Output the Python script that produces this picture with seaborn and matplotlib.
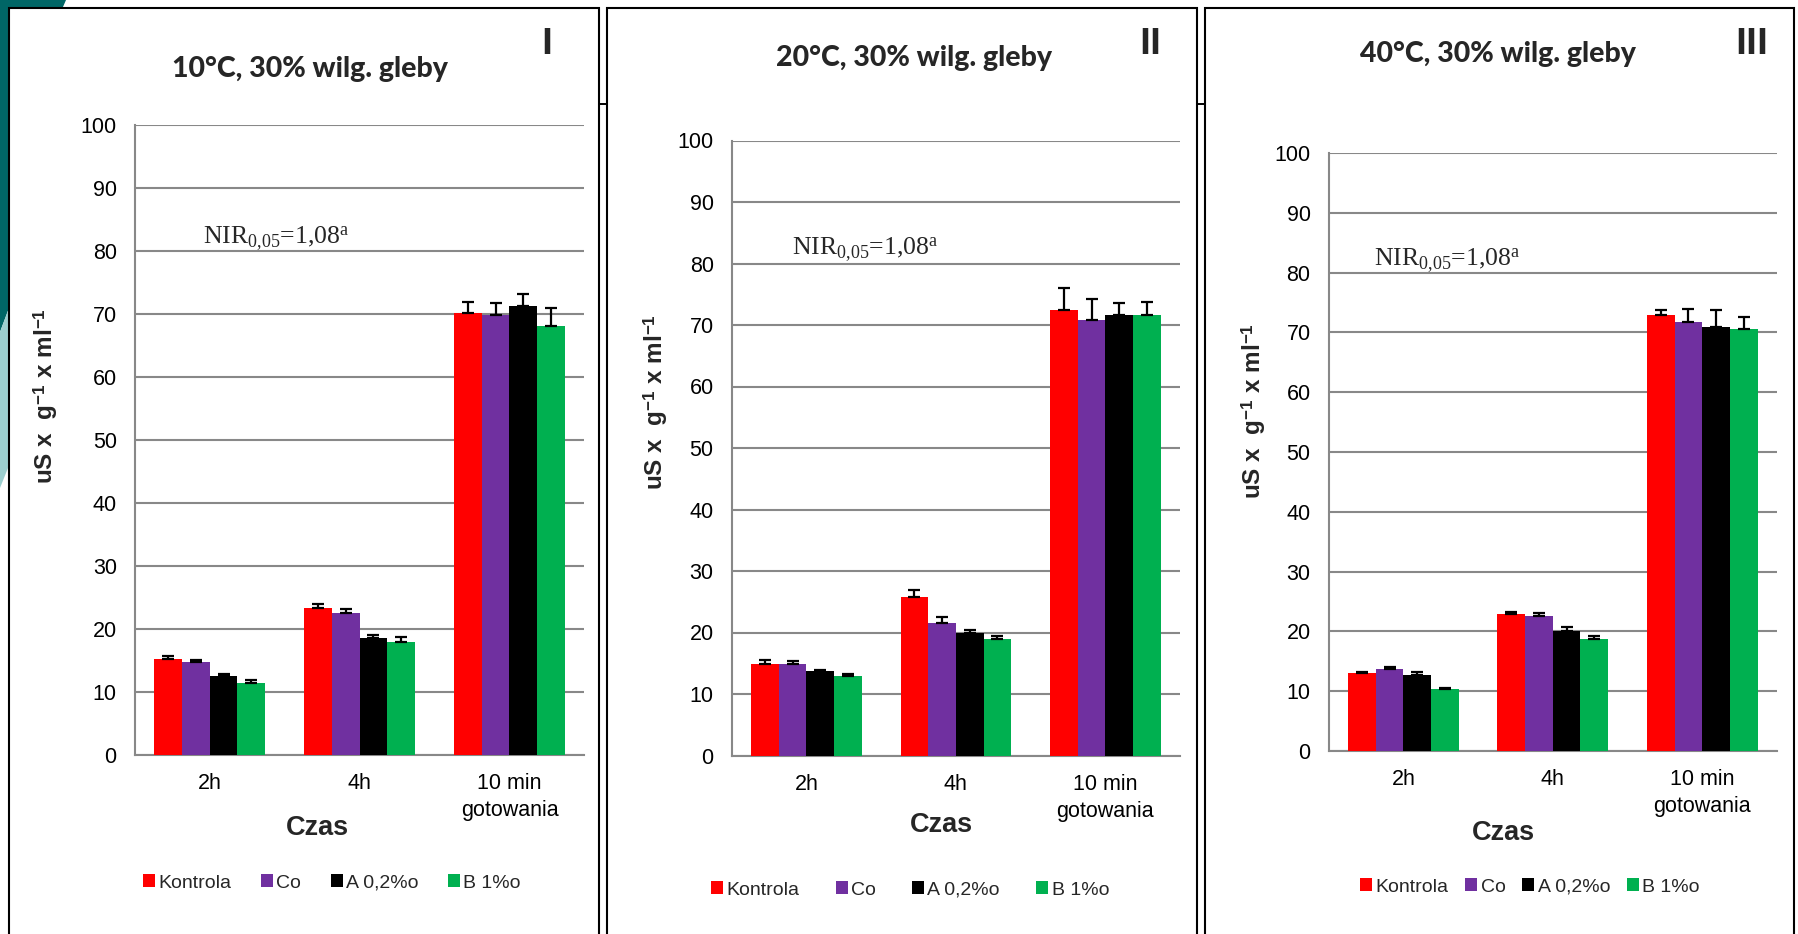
import numpy as np
import pandas as pd
import matplotlib
matplotlib.use("Agg")
import matplotlib.pyplot as plt
from matplotlib.patches import Rectangle, Polygon
from matplotlib.lines import Line2D
import seaborn as sns

# ---- data -------------------------------------------------------------
categories = ["2h", "4h", "10 min\ngotowania"]
series = ["Kontrola", "Co", "A 0,2%o", "B 1%o"]
colors = ["#FF0000", "#7030A0", "#000000", "#00B050"]

panel_titles = ["10°C, 30% wilg. gleby", "20°C, 30% wilg. gleby", "40°C, 30% wilg. gleby"]
panel_numerals = ["I", "II", "III"]
nir_label = r"NIR$_{\mathrm{0{,}05}}$=1,08$^{\mathrm{a}}$"
y_label = r"uS x  g$^{\mathbf{-1}}$ x ml$^{\mathbf{-1}}$"
x_label = "Czas"

# 10 °C
kontrola_10 = [15.2, 23.4, 70.2]
co_10 = [14.7, 22.5, 69.9]
a_10 = [12.5, 18.6, 71.3]
b_10 = [11.5, 18.0, 68.1]
kontrola_10_err = [0.5, 0.6, 1.7]
co_10_err = [0.4, 0.6, 1.9]
a_10_err = [0.4, 0.4, 1.8]
b_10_err = [0.4, 0.7, 2.8]

# 20 °C
kontrola_20 = [14.9, 25.7, 72.5]
co_20 = [14.8, 21.5, 70.8]
a_20 = [13.7, 19.9, 71.7]
b_20 = [13.0, 19.0, 71.6]
kontrola_20_err = [0.6, 1.2, 3.5]
co_20_err = [0.6, 1.0, 3.4]
a_20_err = [0.2, 0.5, 1.8]
b_20_err = [0.3, 0.4, 2.1]

# 40 °C
kontrola_40 = [13.0, 22.9, 72.9]
co_40 = [13.7, 22.5, 71.75]
a_40 = [12.75, 20.1, 70.95]
b_40 = [10.4, 18.65, 70.6]
kontrola_40_err = [0.2, 0.3, 0.9]
co_40_err = [0.3, 0.6, 2.15]
a_40_err = [0.45, 0.6, 2.85]
b_40_err = [0.2, 0.55, 1.9]

panels_values = [
    [kontrola_10, co_10, a_10, b_10],
    [kontrola_20, co_20, a_20, b_20],
    [kontrola_40, co_40, a_40, b_40],
]
panels_errors = [
    [kontrola_10_err, co_10_err, a_10_err, b_10_err],
    [kontrola_20_err, co_20_err, a_20_err, b_20_err],
    [kontrola_40_err, co_40_err, a_40_err, b_40_err],
]

# ---- style ------------------------------------------------------------
sns.set_theme(style="white")
plt.rcParams["font.family"] = ["Liberation Sans", "DejaVu Sans"]
plt.rcParams["mathtext.fontset"] = "custom"
plt.rcParams["mathtext.rm"] = "Liberation Serif"
plt.rcParams["mathtext.it"] = "Liberation Serif:italic"
plt.rcParams["mathtext.bf"] = "Liberation Sans:bold"
plt.rcParams["mathtext.sf"] = "Liberation Sans"

W, H = 1799, 934
fig = plt.figure(figsize=(W / 100, H / 100), dpi=100)
fig.patch.set_facecolor("white")


def fx(x):
    return x / W


def fy(y):
    return 1 - y / H


# slide decoration on the left edge
dark = Polygon([(fx(0), fy(0)), (fx(66), fy(0)), (fx(40), fy(60)), (fx(12), fy(300)),
                (fx(0), fy(332))], closed=True, transform=fig.transFigure,
               facecolor="#006666", edgecolor="none", zorder=-3)
light = Polygon([(fx(0), fy(332)), (fx(12), fy(300)), (fx(12), fy(458)),
                 (fx(0), fy(488))], closed=True, transform=fig.transFigure,
                facecolor="#9CCFCF", edgecolor="none", zorder=-3)
fig.patches.extend([dark, light])
fig.lines.append(Line2D([fx(590), fx(1212)], [fy(104), fy(104)], transform=fig.transFigure,
                        color="black", lw=1.4, zorder=-2))

# white framed boxes around each chart
frames = [(9, 599), (607, 1197), (1205, 1794)]
for x0, x1 in frames:
    fig.patches.append(Rectangle((fx(x0), fy(960)), fx(x1) - fx(x0), fy(8) - fy(960),
                                 transform=fig.transFigure, facecolor="white",
                                 edgecolor="black", lw=1.5, zorder=-1))

# axes geometry: (left px, width px, top(100) px, bottom(0) px)
axes_geom = [(134.8, 449.6, 125, 755), (731.7, 448.4, 140.5, 755.5), (1328.6, 448.4, 153, 751)]
title_pos = [(310, 69), (914, 58), (1498, 54)]
numeral_pos = [(547, 44), (1150, 44), (1752, 44)]
ylabel_pos = [(46, 396), (656, 402), (1254, 411)]
xlabel_pos = [(317, 828), (941, 825), (1503, 833)]
nir_pos = [(-0.045, 82.0), (-0.098, 82.3), (-0.197, 81.9)]
legend_pos = [(332, 883), (910, 890), (1530, 887)]
legend_spacing = [1.5, 1.85, 0.85]

grid_col = "#888888"

for i in range(3):
    left, width, top, bottom = axes_geom[i]
    ax = fig.add_axes([fx(left), fy(bottom), width / W, (bottom - top) / H])
    ax.set_facecolor("white")

    rows = []
    for s, vals in zip(series, panels_values[i]):
        for c, v in zip(categories, vals):
            rows.append({"Czas": c, "seria": s, "wartosc": v})
    df = pd.DataFrame(rows)

    sns.barplot(data=df, x="Czas", y="wartosc", hue="seria", order=categories,
                hue_order=series, palette=colors, saturation=1, width=0.74,
                errorbar=None, legend=False, linewidth=0, ax=ax, zorder=3)

    # one-sided error bars on top of each bar
    for cont, errs in zip(ax.containers, panels_errors[i]):
        xs = [p.get_x() + p.get_width() / 2 for p in cont.patches]
        ys = [p.get_height() for p in cont.patches]
        ax.errorbar(xs, ys, yerr=[np.zeros(len(errs)), errs], fmt="none",
                    ecolor="black", elinewidth=1.6, capsize=4.2, capthick=1.6, zorder=4)

    ax.set_ylim(0, 100)
    ax.set_xlim(-0.5, 2.5)
    ax.set_yticks(np.arange(0, 101, 10))
    ax.yaxis.grid(True, color=grid_col, lw=1.5, zorder=0)
    ax.set_axisbelow(True)
    for side in ["top", "right"]:
        ax.spines[side].set_visible(False)
    for side in ["left", "bottom"]:
        ax.spines[side].set_color(grid_col)
        ax.spines[side].set_linewidth(1.5)
    ax.tick_params(axis="y", length=0, pad=13, labelsize=15.5, colors="black")
    ax.tick_params(axis="x", length=0, pad=13, labelsize=15.5, colors="black")
    plt.setp(ax.get_xticklabels(), linespacing=1.4)
    ax.set_xlabel("")
    ax.set_ylabel("")

    ax.text(nir_pos[i][0], nir_pos[i][1], nir_label, fontsize=18.5,
            family="Liberation Serif", ha="left", va="center", zorder=5)

    fig.text(fx(title_pos[i][0]), fy(title_pos[i][1]), panel_titles[i],
             family="Lato", fontweight=900, fontsize=20.5, ha="center", va="center")
    fig.text(fx(numeral_pos[i][0]), fy(numeral_pos[i][1]), panel_numerals[i],
             family="Lato", fontweight=900, fontsize=26, ha="center", va="center")
    fig.text(fx(ylabel_pos[i][0]), fy(ylabel_pos[i][1]), y_label, fontweight="bold",
             fontsize=17.5, rotation=90, ha="center", va="center")
    fig.text(fx(xlabel_pos[i][0]), fy(xlabel_pos[i][1]), x_label, fontweight="bold",
             fontsize=19.5, ha="center", va="center")

    handles = [Rectangle((0, 0), 1, 1, facecolor=c, edgecolor="none") for c in colors]
    fig.legend(handles, series, loc="center",
               bbox_to_anchor=(fx(legend_pos[i][0]), fy(legend_pos[i][1])),
               ncol=4, frameon=False, fontsize=14, handlelength=0.62, handleheight=0.62,
               handletextpad=0.18, columnspacing=legend_spacing[i], borderpad=0)

fig.savefig("out.png", dpi=100, facecolor="white")
